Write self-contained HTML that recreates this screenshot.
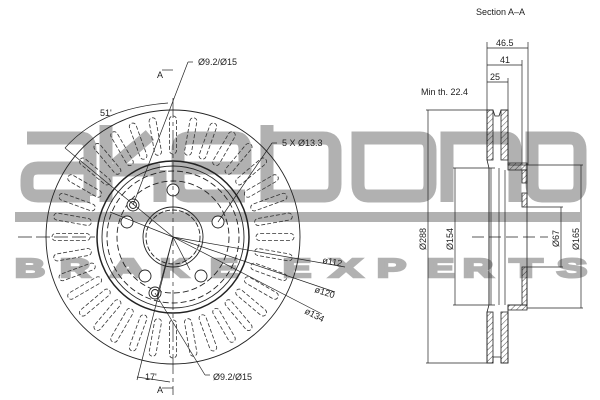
<!DOCTYPE html>
<html><head><meta charset="utf-8"><style>
html,body{margin:0;padding:0;background:#fff}
svg{display:block}
text{font-family:"Liberation Sans",sans-serif;font-size:9px;fill:#222}
.w{font-size:26px;fill:#a9a9a9;font-weight:bold;stroke:#a9a9a9;stroke-width:2.5}
</style></head><body>
<svg width="600" height="400" viewBox="0 0 600 400" xmlns="http://www.w3.org/2000/svg">
<defs>
<pattern id="h" width="4" height="4" patternUnits="userSpaceOnUse" patternTransform="rotate(45)">
<line x1="0" y1="0" x2="0" y2="4" stroke="#222" stroke-width="0.8"/></pattern>
<g id="v"><rect x="-3.5" y="-121" width="7" height="38" rx="3.5" fill="none" stroke="#333" stroke-width="0.8" stroke-dasharray="4 2"/></g>
</defs>

<!-- watermark -->
<g fill="none" stroke="#a9a9a9" stroke-width="13" opacity="0.9">
<path d="M27 138 H80 Q90 138 90 150 V196 M90 168 H38 Q27 168 27 180 V186 Q27 196 38 196 H90"/>
<path d="M106 125 V202 M106 170 H160 M160 170 V202 M150 135 L115 165"/>
<path d="M245 196 H188 Q178 196 178 184 V150 Q178 138 190 138 H235 Q245 138 245 150 V168 H178"/>
<path d="M267 125 V202 M267 196 H325 Q335 196 335 184 V150 Q335 138 323 138 H267"/>
<path d="M358 138 H420 Q430 138 430 150 V184 Q430 196 420 196 H368 Q358 196 358 184 Z"/>
<path d="M447 202 V138 H505 Q515 138 515 150 V202"/>
<path d="M532 138 H570 Q580 138 580 150 V184 Q580 196 570 196 H542 Q532 196 532 184 Z"/>
</g>
<rect x="15" y="212" width="565" height="10" fill="#a9a9a9" opacity="0.9"/>
<g opacity="0.9">
<text class="w" x="15" y="277" textLength="30" lengthAdjust="spacingAndGlyphs">B</text>
<text class="w" x="60" y="277" textLength="30" lengthAdjust="spacingAndGlyphs">R</text>
<text class="w" x="110" y="277" textLength="36" lengthAdjust="spacingAndGlyphs">A</text>
<text class="w" x="160" y="277" textLength="28" lengthAdjust="spacingAndGlyphs">K</text>
<text class="w" x="210" y="277" textLength="28" lengthAdjust="spacingAndGlyphs">E</text>
<text class="w" x="283" y="277" textLength="28" lengthAdjust="spacingAndGlyphs">E</text>
<text class="w" x="330" y="277" textLength="32" lengthAdjust="spacingAndGlyphs">X</text>
<text class="w" x="377" y="277" textLength="29" lengthAdjust="spacingAndGlyphs">P</text>
<text class="w" x="427" y="277" textLength="27" lengthAdjust="spacingAndGlyphs">E</text>
<text class="w" x="463" y="277" textLength="30" lengthAdjust="spacingAndGlyphs">R</text>
<text class="w" x="510" y="277" textLength="32" lengthAdjust="spacingAndGlyphs">T</text>
<text class="w" x="557" y="277" textLength="30" lengthAdjust="spacingAndGlyphs">S</text>
</g>

<!-- disc front -->
<g fill="none" stroke="#222" stroke-width="0.9">
<circle cx="173" cy="237" r="127"/>
<circle cx="173" cy="237" r="76" stroke-width="1.5"/>
<circle cx="173" cy="237" r="71"/>
<circle cx="173" cy="237" r="66" stroke-dasharray="6 3"/>
<circle cx="173" cy="237" r="56" stroke-dasharray="6 3"/>
<circle cx="173" cy="237" r="30"/>
<circle cx="173" cy="237" r="27" stroke-dasharray="5 2"/>
</g>
<g transform="translate(173,237)">
<use href="#v" transform="rotate(0)"/><use href="#v" transform="rotate(10)"/><use href="#v" transform="rotate(20)"/><use href="#v" transform="rotate(30)"/><use href="#v" transform="rotate(40)"/><use href="#v" transform="rotate(50)"/><use href="#v" transform="rotate(60)"/><use href="#v" transform="rotate(70)"/><use href="#v" transform="rotate(80)"/><use href="#v" transform="rotate(90)"/><use href="#v" transform="rotate(100)"/><use href="#v" transform="rotate(110)"/><use href="#v" transform="rotate(120)"/><use href="#v" transform="rotate(130)"/><use href="#v" transform="rotate(140)"/><use href="#v" transform="rotate(150)"/><use href="#v" transform="rotate(160)"/><use href="#v" transform="rotate(170)"/><use href="#v" transform="rotate(180)"/><use href="#v" transform="rotate(190)"/><use href="#v" transform="rotate(200)"/><use href="#v" transform="rotate(210)"/><use href="#v" transform="rotate(220)"/><use href="#v" transform="rotate(230)"/><use href="#v" transform="rotate(240)"/><use href="#v" transform="rotate(250)"/><use href="#v" transform="rotate(260)"/><use href="#v" transform="rotate(270)"/><use href="#v" transform="rotate(280)"/><use href="#v" transform="rotate(290)"/><use href="#v" transform="rotate(300)"/><use href="#v" transform="rotate(310)"/><use href="#v" transform="rotate(320)"/><use href="#v" transform="rotate(330)"/><use href="#v" transform="rotate(340)"/><use href="#v" transform="rotate(350)"/>
</g>
<!-- bolt holes -->
<g fill="#fff" stroke="#222" stroke-width="0.9">
<circle cx="173" cy="190" r="6"/>
<circle cx="218" cy="222" r="6"/>
<circle cx="201" cy="276" r="6"/>
<circle cx="145" cy="276" r="6"/>
<circle cx="127" cy="222" r="6"/>
<circle cx="133" cy="205" r="6"/><circle cx="133" cy="205" r="3.5"/>
<circle cx="155" cy="293" r="6"/><circle cx="155" cy="293" r="3.5"/>
</g>
<!-- centerlines and leaders -->
<g stroke="#222" stroke-width="0.7" fill="none">
<line x1="18" y1="237" x2="95" y2="237" stroke-dasharray="14 4"/>
<line x1="173" y1="98" x2="173" y2="395" stroke-dasharray="20 4 4 4"/>
<line x1="162" y1="70" x2="173" y2="70"/><line x1="173" y1="388" x2="162" y2="388"/>
<line x1="173" y1="237" x2="65" y2="148"/>
<line x1="173" y1="237" x2="110" y2="212"/>
<line x1="173" y1="237" x2="345" y2="267"/>
<line x1="173" y1="237" x2="335" y2="292"/>
<line x1="173" y1="237" x2="322" y2="314"/>
<line x1="173" y1="237" x2="137" y2="380"/>
<line x1="173" y1="237" x2="157" y2="296"/><line x1="173" y1="237" x2="190" y2="270"/>
<path d="M65 148 Q100 108 168 103"/>
<path d="M137 377 L170 382"/>
<line x1="133" y1="205" x2="188" y2="62"/><line x1="188" y1="62" x2="193" y2="62"/>
<line x1="218" y1="222" x2="272" y2="143"/><line x1="272" y1="143" x2="277" y2="143"/>
<line x1="155" y1="293" x2="205" y2="375"/><line x1="205" y1="375" x2="210" y2="375"/>
</g>
<text x="198" y="65">Ø9.2/Ø15</text>
<text x="282" y="146">5 X Ø13.3</text>
<text x="213" y="380">Ø9.2/Ø15</text>
<text x="100" y="116">51'</text>
<text x="145" y="380">17'</text>
<text x="157" y="78" font-size="8">A</text>
<text x="157" y="393" font-size="8">A</text>
<text x="322" y="263" transform="rotate(10 322 263)">ø112</text>
<text x="314" y="292" transform="rotate(18 314 292)">ø120</text>
<text x="304" y="313" transform="rotate(27 304 313)">ø134</text>

<!-- section -->
<text x="476" y="15">Section A–A</text>
<text x="421" y="95">Min th. 22.4</text>
<text x="496" y="46">46.5</text>
<text x="500" y="63">41</text>
<text x="490" y="80">25</text>
<g stroke="#222" stroke-width="0.7" fill="none">
<line x1="487" y1="42" x2="487" y2="110"/>
<line x1="487" y1="48" x2="528" y2="48"/><line x1="528" y1="42" x2="528" y2="165"/>
<line x1="487" y1="65" x2="522" y2="65"/><line x1="522" y1="60" x2="522" y2="165"/>
<line x1="487" y1="82" x2="508" y2="82"/><line x1="508" y1="78" x2="508" y2="110"/>
<line x1="426" y1="110" x2="487" y2="110"/><line x1="426" y1="363" x2="487" y2="363"/>
<line x1="428" y1="110" x2="428" y2="363"/>
<line x1="453" y1="168" x2="495" y2="168"/><line x1="453" y1="305" x2="495" y2="305"/>
<line x1="455" y1="168" x2="455" y2="305"/>
<line x1="527" y1="207" x2="563" y2="207"/><line x1="527" y1="267" x2="563" y2="267"/>
<line x1="561" y1="207" x2="561" y2="267"/>
<line x1="527" y1="165" x2="583" y2="165"/><line x1="527" y1="308" x2="583" y2="308"/>
<line x1="581" y1="165" x2="581" y2="308"/>
<line x1="472" y1="237" x2="548" y2="237" stroke-dasharray="12 5"/>
<line x1="489" y1="168" x2="489" y2="305"/><line x1="491" y1="168" x2="491" y2="305"/>
<line x1="499" y1="168" x2="499" y2="305"/><line x1="505" y1="170" x2="505" y2="305"/>
</g>
<g stroke="#222" stroke-width="0.8" fill="url(#h)">
<path d="M487 110 H493 L495 116 H499 L501 110 H508 V158 L508 165 H527 V305 H508 V312 L508 363 H501 V357 H493 V363 H487 V312 L489 305 V168 L487 160 Z" fill="none"/>
<path d="M487 110 H493 V160 H487 Z"/><path d="M501 110 H508 V160 H501 Z"/>
<path d="M487 312 H493 V363 H487 Z"/><path d="M501 312 H508 V363 H501 Z"/>
<path d="M508 163 H527 V170 H508 Z"/><path d="M508 305 H527 V310 H508 Z"/>
<path d="M522 170 H527 V183 H522 Z"/><path d="M522 193 H527 V207 H522 Z"/><path d="M522 267 H527 V305 H522 Z"/>
</g>
<text transform="translate(426 250) rotate(-90)">Ø288</text>
<text transform="translate(453 250) rotate(-90)">Ø154</text>
<text transform="translate(559 247) rotate(-90)">Ø67</text>
<text transform="translate(579 250) rotate(-90)">Ø165</text>
</svg>
</body></html>
